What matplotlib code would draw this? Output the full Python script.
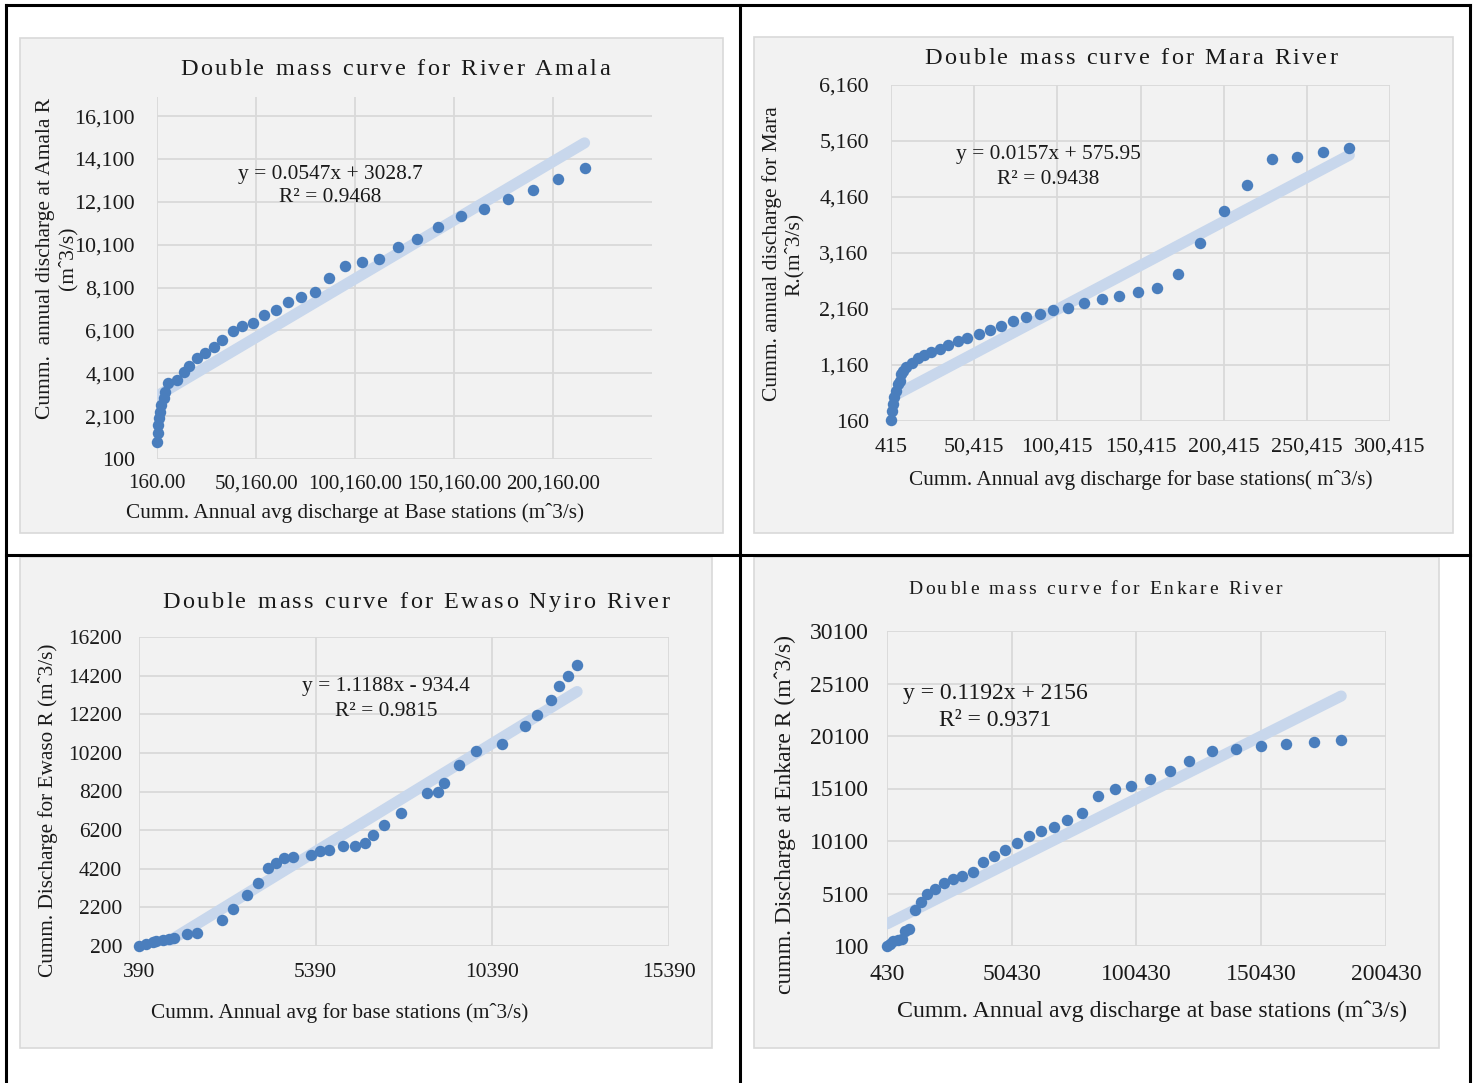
import matplotlib
matplotlib.use('Agg')
import matplotlib.pyplot as plt
from matplotlib.lines import Line2D
from matplotlib.patches import Rectangle

# ---- data ----
amala_x = [160, 610, 830, 1280, 1730, 2400, 3530, 4200, 5770, 10260, 13630, 16550, 20360,
           24400, 28890, 33160, 38320, 43260, 48420, 54260, 60320, 66380, 72890, 79850,
           87030, 95330, 103860, 112390, 121820, 131700, 142020, 153690, 165370, 177490,
           190060, 202850, 216100]
amala_y = [910, 1300, 1690, 2000, 2310, 2620, 2930, 3240, 3630, 3790, 4170, 4450, 4800,
           5030, 5340, 5650, 6090, 6320, 6430, 6820, 7050, 7410, 7640, 7880, 8530, 9100,
           9270, 9410, 10000, 10360, 10940, 11440, 11750, 12210, 12650, 13150, 13690]
amala_fit = (0.0547, 3028.7, 0.9468)

mara_x = [415, 960, 1500, 2320, 3400, 4490, 5580, 6390, 7480, 9650, 12920, 16450, 19980,
          24600, 30030, 34930, 40900, 46340, 53130, 59930, 66450, 74060, 81670, 89820,
          97970, 106670, 116450, 127050, 137640, 148790, 160470, 172970, 186290, 200420,
          214270, 229220, 244440, 259930, 275960]
mara_y = [170, 330, 460, 580, 700, 820, 880, 1000, 1060, 1120, 1200, 1280, 1340, 1390,
          1450, 1510, 1590, 1650, 1720, 1790, 1860, 1950, 2010, 2070, 2140, 2180, 2270,
          2330, 2400, 2460, 2540, 2780, 3340, 3910, 4370, 4830, 4870, 4960, 5030]
mara_fit = (0.0157, 575.95, 0.9438)

ewaso_x = [390, 600, 780, 880, 1070, 1240, 1390, 1740, 2020, 2740, 3050, 3440, 3750, 4050,
           4280, 4480, 4760, 5250, 5500, 5780, 6170, 6510, 6800, 7010, 7330, 7800, 8530,
           8860, 9030, 9450, 9930, 10650, 11320, 11640, 12040, 12290, 12530, 12790]
ewaso_y = [200, 320, 410, 440, 490, 550, 630, 810, 860, 1530, 2110, 2850, 3460, 4240, 4480,
           4740, 4820, 4930, 5100, 5190, 5360, 5400, 5520, 5970, 6490, 7090, 8110, 8170,
           8650, 9550, 10280, 10680, 11580, 12170, 12960, 13660, 14190, 14750]
ewaso_fit = (1.1188, -934.4, 0.9815)

enkare_x = [430, 1520, 2970, 4790, 6420, 7510, 9140, 11680, 13860, 16580, 19670, 23300,
            26930, 30560, 34730, 38910, 43260, 47800, 52340, 57240, 61960, 67220, 72670,
            78660, 85010, 91730, 98260, 105700, 113690, 121670, 130570, 140190, 150170,
            160510, 171400, 182480]
enkare_y = [100, 320, 540, 700, 730, 1490, 1750, 3550, 4280, 5080, 5550, 6120, 6500, 6720,
            7140, 8090, 8660, 9260, 9890, 10620, 11100, 11480, 12110, 12780, 14360, 15060,
            15380, 16010, 16800, 17690, 18640, 18860, 19150, 19370, 19500, 19720]
enkare_fit = (0.1192, 2156, 0.9371)

W, H = 1477, 1083
SERIF = ['Liberation Serif', 'DejaVu Serif']
DOT = '#4A7EBD'
TREND = '#C8D7EC'
GRID = '#D9D9D9'
INK = '#1A1A1A'


def fx(x):
    return x / W


def fy(y):
    return 1 - y / H


def label(fig, x, y, s, size, rot=0):
    fig.text(fx(x), fy(y), s, rotation=rot, ha='center', va='center',
             multialignment='center', family=SERIF, fontsize=size, color=INK)


def spaced_text(fig, s, cx, cy, size, width):
    # excel titles have extra character spacing, fake it char by char
    renderer = fig.canvas.get_renderer()

    def wid(txt):
        t = fig.text(0, 0, txt, fontsize=size, family=SERIF)
        w = t.get_window_extent(renderer).width
        t.remove()
        return w

    base = wid('nn')
    adv = [wid('n' + ch + 'n') - base for ch in s]
    gap = (width - sum(adv)) / (len(s) - 1)
    x = cx - width / 2
    for ch, a in zip(s, adv):
        if ch != ' ':
            fig.text(fx(x), fy(cy), ch, fontsize=size, family=SERIF, color=INK,
                     ha='left', va='center')
        x += a + gap


def panel(fig, box, plot, xs, ys, fit, xlim, ylim, xticks, yticks, xfmt, yfmt,
          tsize, xpad, ypad, xsize=None):
    # grey excel chart area
    l, t, r, b = box
    fig.patches.append(Rectangle((fx(l), fy(b)), (r - l) / W, (b - t) / H,
                                 transform=fig.transFigure, facecolor='#F2F2F2',
                                 edgecolor='#D9D9D9', lw=1.2, zorder=-2))
    l, t, r, b = plot
    ax = fig.add_axes([fx(l), fy(b), (r - l) / W, (b - t) / H])
    ax.patch.set_alpha(0)
    for sp in ax.spines.values():
        sp.set_visible(False)

    slope, icpt, r2 = fit
    x0, x1 = min(xs), max(xs)
    ax.plot([x0, x1], [slope * x0 + icpt, slope * x1 + icpt], color=TREND, lw=8,
            solid_capstyle='round', zorder=2)
    ax.scatter(xs, ys, s=68, color=DOT, zorder=3, clip_on=False, linewidths=0)

    ax.set_xlim(*xlim)
    ax.set_ylim(*ylim)
    ax.set_xticks(xticks)
    ax.set_yticks(yticks)
    ax.set_xticklabels([xfmt.format(v) for v in xticks], family=SERIF,
                       fontsize=xsize or tsize, color=INK)
    ax.set_yticklabels([yfmt.format(v) for v in yticks], family=SERIF, fontsize=tsize,
                       color=INK)
    ax.tick_params(axis='x', length=0, pad=xpad)
    ax.tick_params(axis='y', length=0, pad=ypad)
    ax.grid(True, color=GRID, lw=1.3)
    ax.set_axisbelow(True)
    return ax


fig = plt.figure(figsize=(W / 100, H / 100), dpi=100)

# table borders around the four charts
for xa, ya in [([6, 1470], [5, 5]), ([6, 1470], [555, 555]), ([6, 6], [5, 1083]),
               ([740, 740], [5, 1083]), ([1470, 1470], [5, 1083])]:
    fig.add_artist(Line2D([fx(v) for v in xa], [fy(v) for v in ya], color='black',
                          lw=2.2, transform=fig.transFigure))

# River Amala
panel(fig, (20, 38, 723, 533), (157, 97, 652, 459), amala_x, amala_y, amala_fit,
      (160, 250160), (100, 16990), list(range(160, 200161, 50000)),
      list(range(100, 16101, 2000)), '{:,.2f}', '{:,}', 15.8, 11, 16, xsize=15.1)
spaced_text(fig, 'Double mass curve for River Amala', 395, 69, 17.5, 429)
label(fig, 57, 258, 'Cumm.  annual discharge at Amala R\n(mˆ3/s)', 15.5, 90)
label(fig, 355, 513, 'Cumm. Annual avg discharge at Base stations (mˆ3/s)', 15.3)
label(fig, 330, 175, 'y = %.4fx + %.1f' % amala_fit[:2], 15.4)
label(fig, 330, 198, 'R² = %.4f' % amala_fit[2], 15.4)

# Mara River
panel(fig, (754, 37, 1453, 533), (891, 85, 1390, 421), mara_x, mara_y, mara_fit,
      (415, 300415), (160, 6160), list(range(415, 300416, 50000)),
      list(range(160, 6161, 1000)), '{:,}', '{:,}', 15.8, 12, 16)
spaced_text(fig, 'Double mass curve for Mara River', 1131, 59, 17.5, 413)
label(fig, 783, 254, 'Cumm. annual discharge for Mara\nR.(mˆ3/s)', 15.5, 90)
label(fig, 1141, 480, 'Cumm. Annual avg discharge for base stations( mˆ3/s)', 15.3)
label(fig, 1048, 155, 'y = %.4fx + %.2f' % mara_fit[:2], 15.4)
label(fig, 1048, 180, 'R² = %.4f' % mara_fit[2], 15.4)

# Ewaso Nyiro River
panel(fig, (20, 557, 712, 1048), (139, 637, 669, 946), ewaso_x, ewaso_y, ewaso_fit,
      (390, 15390), (200, 16200), list(range(390, 15391, 5000)),
      list(range(200, 16201, 2000)), '{}', '{}', 15.5, 12, 12)
spaced_text(fig, 'Double mass curve for Ewaso Nyiro River', 416, 602, 17.5, 507)
label(fig, 48, 810, 'Cumm. Discharge for Ewaso R (mˆ3/s)', 15.3, 90)
label(fig, 340, 1013, 'Cumm. Annual avg for base stations (mˆ3/s)', 15.3)
label(fig, 386, 687, 'y = %.4fx - %.1f' % (ewaso_fit[0], -ewaso_fit[1]), 15.4)
label(fig, 386, 712, 'R² = %.4f' % ewaso_fit[2], 15.4)

# Enkare River
panel(fig, (754, 557, 1439, 1048), (887, 631, 1386, 946), enkare_x, enkare_y, enkare_fit,
      (430, 200430), (100, 30100), list(range(430, 200431, 50000)),
      list(range(100, 30101, 5000)), '{}', '{}', 17, 13, 13)
spaced_text(fig, 'Double mass curve for Enkare River', 1095, 589, 14, 374)
label(fig, 785, 815, 'cumm. Discharge at Enkare R (mˆ3/s)', 17, 90)
label(fig, 1152, 1011, 'Cumm. Annual avg discharge at base stations (mˆ3/s)', 17.2)
label(fig, 995, 693, 'y = %.4fx + %d' % enkare_fit[:2], 17)
label(fig, 995, 720, 'R² = %.4f' % enkare_fit[2], 17)

fig.savefig('out.png', dpi=100, facecolor='white')
